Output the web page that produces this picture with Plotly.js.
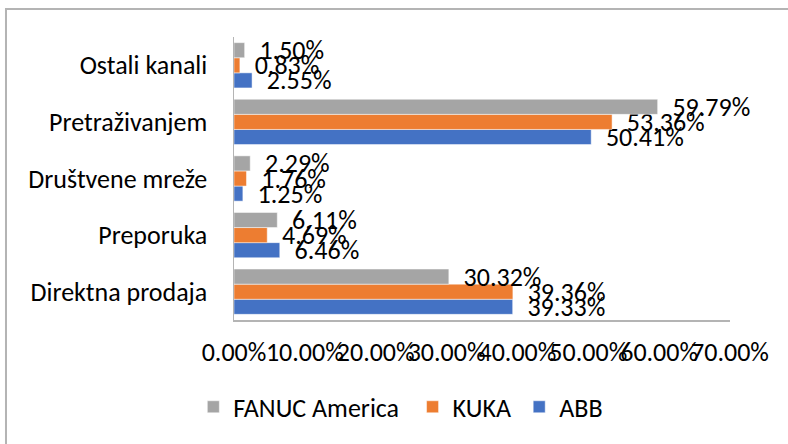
<!DOCTYPE html>
<html>
<head>
<meta charset="utf-8">
<script src="https://cdn.plot.ly/plotly-3.0.1.min.js"></script>
<style>
  html, body { margin: 0; padding: 0; background: #ffffff; }
  #chart { width: 788px; height: 444px; }
</style>
</head>
<body>
<div id="chart"></div>
<script>
// Categories, bottom to top as drawn on the chart
const categories = ["Direktna prodaja", "Preporuka", "Društvene mreže", "Pretraživanjem", "Ostali kanali"];

// Series values (fractions of 1)
const fanucAmerica = [0.3032, 0.0611, 0.0229, 0.5979, 0.0150];
const kuka         = [0.3936, 0.0469, 0.0176, 0.5336, 0.0083];
const abb          = [0.3933, 0.0646, 0.0125, 0.5041, 0.0255];

const seriesNames = ["ABB", "KUKA", "FANUC America"];
const seriesColors = ["#4472C4", "#ED7D31", "#A5A5A5"];
const seriesLegends = ["legend3", "legend2", "legend"];

// X axis ticks
const xTickValues = [0, 0.1, 0.2, 0.3, 0.4, 0.5, 0.6, 0.7];

const FONT = "Carlito, Calibri, Lato, 'Liberation Sans', sans-serif";
const FS = 26;
const seriesData = [abb, kuka, fanucAmerica];

const traces = seriesData.map((vals, i) => ({
  type: "bar",
  orientation: "h",
  name: seriesNames[i],
  legend: seriesLegends[i],
  y: categories,
  x: vals,
  marker: { color: seriesColors[i], line: { color: "rgba(255,255,255,0.6)", width: 0.8 } },
  texttemplate: "\u00a0\u00a0%{x:.2%}",
  textposition: "outside",
  textangle: 0,
  constraintext: "none",
  cliponaxis: false,
  textfont: { family: FONT, size: FS, color: "#000000" },
  hoverinfo: "skip"
}));

function legendAt(x) {
  return {
    orientation: "h",
    x: x,
    xanchor: "left",
    y: -0.307,
    yanchor: "middle",
    font: { family: FONT, size: FS, color: "#000000" },
    bgcolor: "rgba(0,0,0,0)",
    borderwidth: 0
  };
}

const layout = {
  width: 788,
  height: 444,
  paper_bgcolor: "#ffffff",
  plot_bgcolor: "#ffffff",
  margin: { l: 234, r: 58, t: 37, b: 124, pad: 0 },
  font: { family: FONT, size: FS, color: "#000000" },
  barmode: "group",
  bargap: 0.2,
  bargroupgap: 0,
  showlegend: true,
  legend: legendAt(-0.082),
  legend2: legendAt(0.36),
  legend3: legendAt(0.575),
  xaxis: {
    range: [0, 0.7],
    tickvals: xTickValues,
    tickformat: ".2%",
    tickangle: 0,
    showgrid: false,
    zeroline: false,
    showline: true,
    linecolor: "#b4b4b4",
    linewidth: 1.5,
    ticks: "",
    ticklabelstandoff: 8,
    ticklabeloverflow: "allow",
    tickfont: { family: FONT, size: FS, color: "#000000" },
    fixedrange: true
  },
  yaxis: {
    type: "category",
    showgrid: false,
    zeroline: false,
    showline: true,
    linecolor: "#b4b4b4",
    linewidth: 1.5,
    ticks: "",
    ticklabelstandoff: 20,
    tickfont: { family: FONT, size: FS, color: "#000000" },
    fixedrange: true
  },
  shapes: [{
    type: "rect",
    xref: "paper", yref: "paper",
    x0: -0.4597, x1: 1.5,
    y0: -1.0, y1: 1.099,
    line: { color: "#b4b4b4", width: 2 },
    fillcolor: "rgba(0,0,0,0)",
    layer: "below"
  }]
};

Plotly.newPlot("chart", traces, layout, { displayModeBar: false, staticPlot: true });
</script>
</body>
</html>
